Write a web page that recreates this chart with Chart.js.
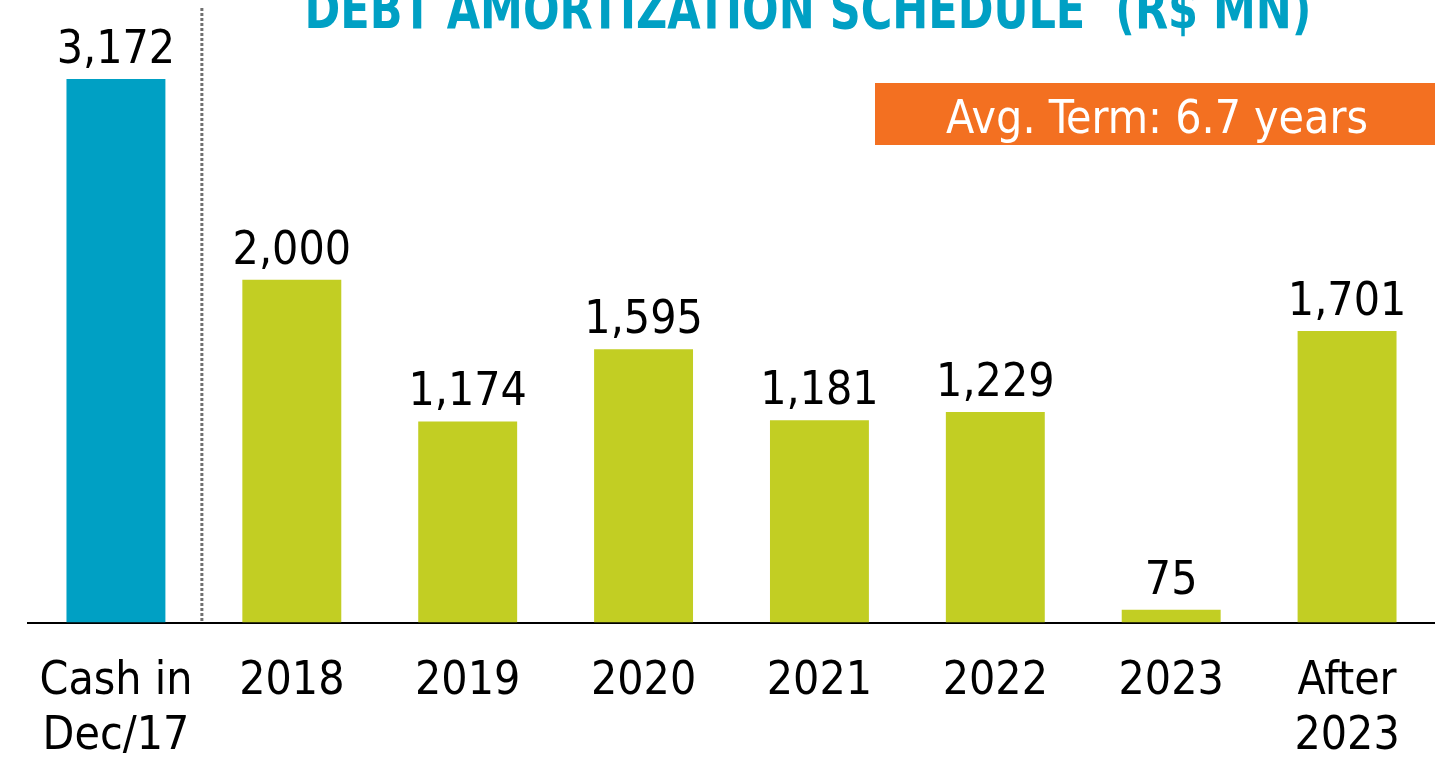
<!DOCTYPE html>
<html>
<head>
<meta charset="utf-8">
<script src="https://cdn.jsdelivr.net/npm/chart.js@4"></script>
<style>
  html, body { margin: 0; padding: 0; background: #ffffff; }
  #wrap { width: 1435px; height: 759px; }
</style>
</head>
<body>
<div id="wrap"><canvas id="myChart"></canvas></div>
<script>
// Data
var categories = [["Cash in", "Dec/17"], "2018", "2019", "2020", "2021", "2022", "2023", ["After", "2023"]];
var amounts = [3172, 2000, 1174, 1595, 1181, 1229, 75, 1701];
var titleText = "DEBT AMORTIZATION SCHEDULE  (R$ MN)";
var badgeText = "Avg. Term: 6.7 years";

var FONT = "'DejaVu Sans Condensed', 'DejaVu Sans', sans-serif";
var TEAL = "#00A0C4";
var GREEN = "#C2CE23";
var ORANGE = "#F37021";

// bar colours: cash is teal, maturities are green
var barColors = amounts.map(function (v, i) { return i === 0 ? TEAL : GREEN; });

// Extra drawing: title, badge, divider and value labels
var decorations = {
    id: "decorations",
    beforeDatasetsDraw: function (chart) {
        var c = chart.ctx;
        var x = chart.scales.x;
        var mid = (x.getPixelForValue(0) + x.getPixelForValue(1)) / 2 - 2;
        c.save();
        c.strokeStyle = "#707070";
        c.lineWidth = 3;
        c.setLineDash([3, 2]);
        c.beginPath();
        c.moveTo(mid, 8);
        c.lineTo(mid, chart.chartArea.bottom - 1);
        c.stroke();
        c.restore();
    },
    afterDraw: function (chart) {
        var c = chart.ctx;
        c.save();
        // title (cut off at the top edge like the original)
        c.fillStyle = TEAL;
        c.font = "bold 56px " + FONT;
        c.textAlign = "center";
        c.textBaseline = "alphabetic";
        c.fillText(titleText, 808, 28, 1007);

        // orange badge
        c.fillStyle = ORANGE;
        c.fillRect(875, 83, 560, 62);
        c.fillStyle = "#ffffff";
        c.font = "46px " + FONT;
        c.fillText(badgeText, 1157, 133, 440);

        // value labels
        c.fillStyle = "#000000";
        c.font = "46px " + FONT;
        var meta = chart.getDatasetMeta(0);
        meta.data.forEach(function (bar, i) {
            c.fillText(amounts[i].toLocaleString("en-US"), bar.x, bar.y - 16);
        });
        c.restore();
    }
};

var ctx = document.getElementById("myChart").getContext("2d");
var myChart = new Chart(ctx, {
    type: "bar",
    data: {
        labels: categories,
        datasets: [
            {
                data: amounts,
                backgroundColor: barColors,
                borderWidth: 0,
                categoryPercentage: 1,
                barPercentage: 0.5625
            }
        ]
    },
    options: {
        responsive: true,
        maintainAspectRatio: false,
        animation: false,
        layout: { padding: { left: 28, right: 0, top: 0, bottom: -38 } },
        plugins: {
            legend: { display: false },
            tooltip: { enabled: false }
        },
        scales: {
            x: {
                grid: { display: false, drawTicks: false },
                border: { display: true, color: "#000000", width: 2 },
                ticks: {
                    color: "#000000",
                    padding: 32,
                    maxRotation: 0,
                    autoSkip: false,
                    font: { family: FONT, size: 46, lineHeight: 1.2 }
                }
            },
            y: {
                display: false,
                min: 0,
                max: 3633
            }
        }
    },
    plugins: [decorations]
});
</script>
</body>
</html>
